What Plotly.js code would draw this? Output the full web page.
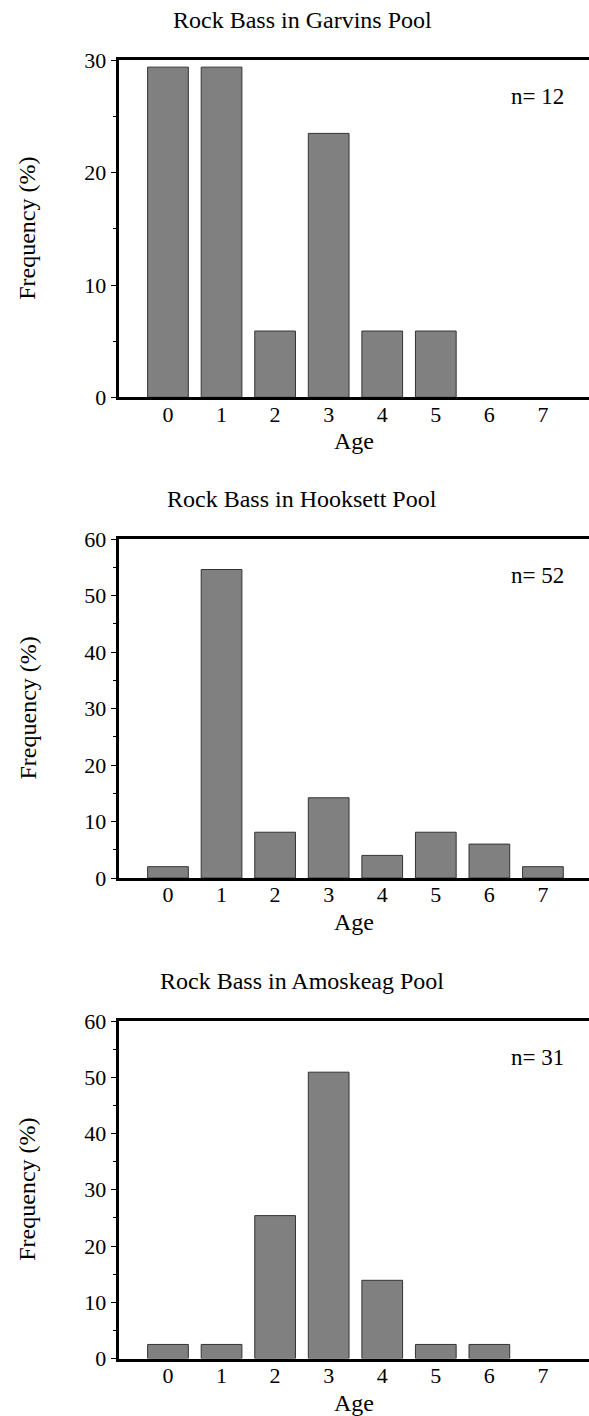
<!DOCTYPE html>
<html>
<head>
<meta charset="utf-8">
<script src="https://cdn.plot.ly/plotly-3.0.1.min.js"></script>
<style>html,body{margin:0;padding:0;background:#fff;}#chart{width:589px;height:1416px;}</style>
</head>
<body>
<div id="chart"></div>
<script>
// ---- data ----
const ages = [0, 1, 2, 3, 4, 5, 6, 7];
const ageLabels = ["0", "1", "2", "3", "4", "5", "6", "7"];
const garvins = [29.4, 29.4, 5.9, 23.5, 5.9, 5.9, 0, 0];
const hooksett = [2.0, 54.6, 8.1, 14.2, 4.0, 8.1, 6.0, 2.0];
const amoskeag = [2.5, 2.5, 25.4, 50.9, 13.9, 2.5, 2.5, 0];
const titles = ["Rock Bass in Garvins Pool", "Rock Bass in Hooksett Pool", "Rock Bass in Amoskeag Pool"];
const nLabels = ["n= 12", "n= 52", "n= 31"];
const yMax = [30, 60, 60];
const yTicks = [[0, 10, 20, 30], [0, 10, 20, 30, 40, 50, 60], [0, 10, 20, 30, 40, 50, 60]];
const series = [garvins, hooksett, amoskeag];

// ---- layout helpers ----
const W = 589, H = 1416;
const FONT = "'Liberation Serif', 'Times New Roman', serif";
const py = p => 1 - p / H;
const px = p => p / W;
// panel pixel positions: [bottom(0), top]
const panels = [[397.3, 60.4], [878, 539], [1358.5, 1021]];
const xLeft = 118.7;

const data = [];
const layout = {
  width: W, height: H,
  margin: {l: 0, r: 0, t: 0, b: 0, pad: 0},
  paper_bgcolor: "#fff", plot_bgcolor: "#fff",
  showlegend: false,
  font: {family: FONT, size: 22, color: "#000"},
  annotations: []
};

series.forEach((vals, i) => {
  const k = i === 0 ? "" : String(i + 1);
  data.push({
    type: "bar", x: ages, y: vals,
    xaxis: "x" + k, yaxis: "y" + k,
    width: 0.76,
    marker: {color: "#808080", line: {color: "#333333", width: vals.map(v => (v > 0 ? 1 : 0))}},
    hoverinfo: "skip"
  });
  const [bot, top] = panels[i];
  layout["xaxis" + k] = {
    domain: [px(xLeft), 1],
    range: [-0.92, 7.86],
    anchor: "y" + k,
    tickvals: ages, ticktext: ageLabels,
    ticks: "", showgrid: false, zeroline: false,
    showline: true, mirror: true, linewidth: 3, linecolor: "#000",
    layer: "above traces",
    ticklabelstandoff: -5,
    tickfont: {family: FONT, size: 22, color: "#000"},
    fixedrange: true
  };
  layout["yaxis" + k] = {
    domain: [py(bot), py(top)],
    range: [0, yMax[i]],
    anchor: "x" + k,
    tickvals: yTicks[i],
    ticks: "outside", ticklen: 5, tickwidth: 1, tickcolor: "#000",
    minor: {dtick: 5, tick0: 0, ticks: "outside", ticklen: 3, tickwidth: 1, tickcolor: "#000"},
    showgrid: false, zeroline: false,
    showline: true, linewidth: 3, linecolor: "#000",
    layer: "above traces",
    tickfont: {family: FONT, size: 22, color: "#000"},
    fixedrange: true
  };
  layout.annotations.push(
    {text: titles[i], xref: "paper", yref: "paper", x: px(302), y: py(top - 40),
     xanchor: "center", yanchor: "middle", showarrow: false, font: {family: FONT, size: 24, color: "#000"}},
    {text: nLabels[i], xref: "paper", yref: "paper", x: px(537.5), y: py(top + 36),
     xanchor: "center", yanchor: "middle", showarrow: false, font: {family: FONT, size: 23, color: "#000"}},
    {text: "Age", xref: "paper", yref: "paper", x: px((xLeft + W) / 2), y: py(bot + 44),
     xanchor: "center", yanchor: "middle", showarrow: false, font: {family: FONT, size: 24, color: "#000"}},
    {text: "Frequency (%)", xref: "paper", yref: "paper", x: px(27), y: py((bot + top) / 2),
     xanchor: "center", yanchor: "middle", textangle: -90, showarrow: false, font: {family: FONT, size: 24, color: "#000"}}
  );
});

Plotly.newPlot("chart", data, layout, {displayModeBar: false, staticPlot: true});
</script>
</body>
</html>
